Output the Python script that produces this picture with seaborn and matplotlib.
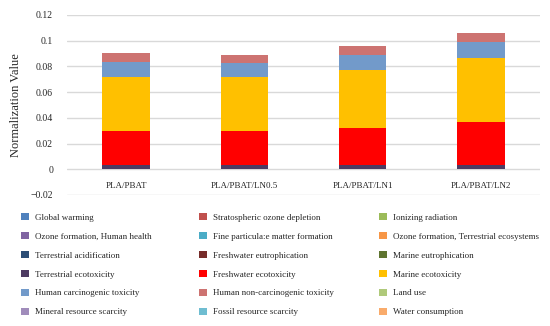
import matplotlib
matplotlib.use("Agg")
import matplotlib.pyplot as plt
import matplotlib.patches as mpatches
import seaborn as sns
import pandas as pd
import numpy as np

samples = ["PLA/PBAT", "PLA/PBAT/LN0.5", "PLA/PBAT/LN1", "PLA/PBAT/LN2"]

categories = [
    "Global warming", "Stratospheric ozone depletion", "Ionizing radiation",
    "Ozone formation, Human health", "Fine particulate matter formation", "Ozone formation, Terrestrial ecosystems",
    "Terrestrial acidification", "Freshwater eutrophication", "Marine eutrophication",
    "Terrestrial ecotoxicity", "Freshwater ecotoxicity", "Marine ecotoxicity",
    "Human carcinogenic toxicity", "Human non-carcinogenic toxicity", "Land use",
    "Mineral resource scarcity", "Fossil resource scarcity", "Water consumption",
]
legend_labels = list(categories)
legend_labels[4] = "Fine particula:e matter formation"

colors = [
    "#4F81BD", "#C0504D", "#9BBB59",
    "#8064A2", "#4BACC6", "#F79646",
    "#2C4D75", "#772C2A", "#5F7530",
    "#4D3B62", "#FF0000", "#FFC000",
    "#729ACA", "#CD7371", "#AFC97A",
    "#A08CBB", "#6FBDD1", "#F9AB6B",
]

global_warming = [0.0, 0.0, 0.0, 0.0]
strat_ozone = [0.0, 0.0, 0.0, 0.0]
ionizing = [0.0, 0.0, 0.0, 0.0]
ozone_human = [0.0, 0.0, 0.0, 0.0]
fine_pm = [0.0, 0.0, 0.0, 0.0]
ozone_terr = [0.0, 0.0, 0.0, 0.0]
terr_acid = [0.0, 0.0, 0.0, 0.0]
fresh_eutro = [0.0, 0.0, 0.0, 0.0]
marine_eutro = [0.0, 0.0, 0.0, 0.0]
terr_ecotox = [0.0031, 0.0030, 0.0030, 0.0032]
fresh_ecotox = [0.0266, 0.0270, 0.0293, 0.0332]
marine_ecotox = [0.0424, 0.0418, 0.0450, 0.0502]
human_carc = [0.0114, 0.0109, 0.0113, 0.0121]
human_noncarc = [0.0070, 0.0064, 0.0070, 0.0073]
land_use = [0.0, 0.0, 0.0, 0.0]
mineral = [0.0, 0.0, 0.0, 0.0]
fossil = [0.0, 0.0, 0.0, 0.0]
water = [0.0, 0.0, 0.0, 0.0]

series = [global_warming, strat_ozone, ionizing, ozone_human, fine_pm, ozone_terr,
          terr_acid, fresh_eutro, marine_eutro, terr_ecotox, fresh_ecotox, marine_ecotox,
          human_carc, human_noncarc, land_use, mineral, fossil, water]

yticks = [-0.02, 0, 0.02, 0.04, 0.06, 0.08, 0.1, 0.12]
ytick_labels = ["\u22120.02", "0", "0.02", "0.04", "0.06", "0.08", "0.1", "0.12"]

sns.set_style("white")
plt.rcParams["font.family"] = ["Liberation Serif", "DejaVu Serif"]

fig = plt.figure(figsize=(5.5, 3.26), dpi=100)
ax = fig.add_axes([67/550, 1-195/326, (540-67)/550, 180/326])

vals = np.array(series)
cum = np.cumsum(vals, axis=0)
# draw from top layer down so lower layers cover upper cumulative bars
for i in range(len(categories) - 1, -1, -1):
    df = pd.DataFrame({"sample": samples, "value": cum[i]})
    sns.barplot(data=df, x="sample", y="value", color=colors[i], width=0.4,
                saturation=1, linewidth=0, ax=ax, zorder=3)

ax.set_ylim(-0.02, 0.12)
ax.set_xlim(-0.5, 3.5)
ax.set_yticks(yticks)
ax.set_yticklabels(ytick_labels, fontsize=7)
ax.yaxis.grid(True, color="#D9D9D9", linewidth=1)
ax.set_axisbelow(True)
for s in ax.spines.values():
    s.set_visible(False)
ax.spines["bottom"].set_position(("data", 0))
ax.tick_params(axis="both", length=0)
ax.tick_params(axis="y", pad=10)
ax.tick_params(axis="x", pad=9, labelsize=6.5)
ax.set_xlabel("")
ax.set_ylabel("Normalization Value", fontsize=9, labelpad=6)

handles = [mpatches.Patch(facecolor=c, edgecolor="none") for c in colors]
col_x = [21/550, 199/550, 379/550]
for col in range(3):
    idx = list(range(col, 18, 3))
    fig.legend([handles[i] for i in idx], [legend_labels[i] for i in idx],
               loc="upper left", bbox_to_anchor=(col_x[col], 1 - 213/326),
               frameon=False, fontsize=6.5, ncol=1, handlelength=0.85, handleheight=0.85,
               handletextpad=0.75, labelspacing=1.13, borderpad=0, borderaxespad=0)

fig.savefig("out.png", dpi=100)
